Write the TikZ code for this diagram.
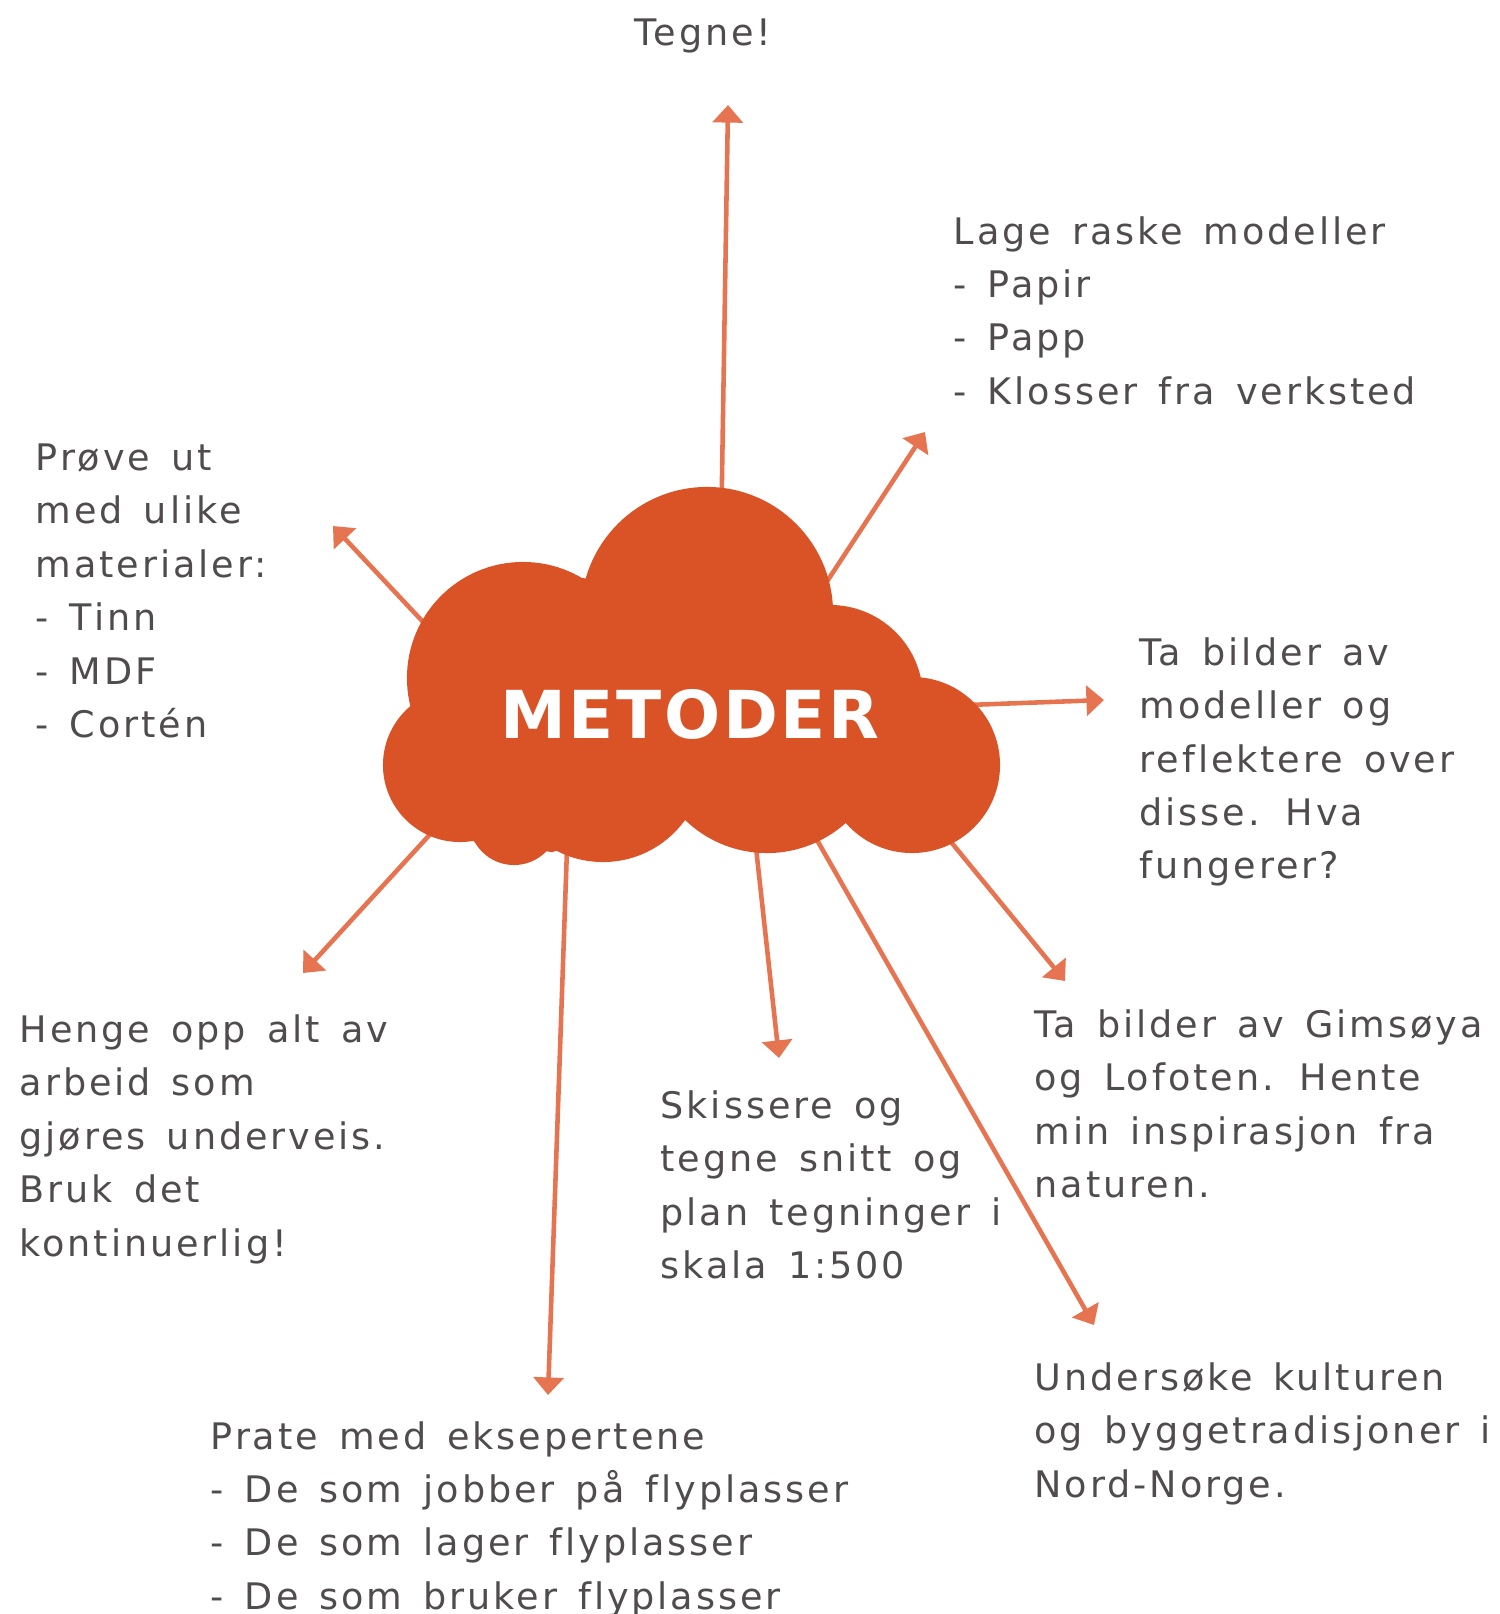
\documentclass[tikz,border=0pt]{standalone}
\usepackage{fontspec}
\setmainfont{DejaVu Sans}[LetterSpace=8, WordSpace=1.45, Ligatures=CommonOff]
\newfontfamily\titlefont{DejaVu Sans}[LetterSpace=4]
\usetikzlibrary{arrows.meta}
\definecolor{cloudred}{RGB}{218,83,38}
\definecolor{arrowred}{RGB}{231,116,80}
\definecolor{textgray}{RGB}{80,76,78}
\tikzset{
  idea/.style={anchor=north west, inner sep=0pt, align=left, text=textgray,
    font=\fontsize{10.4pt}{15.2pt}\selectfont},
  link/.style={arrowred, line width=1.3pt, -{Triangle[width=8.5pt,length=5pt]}},
}

\begin{document}
\begin{tikzpicture}[x=0.01cm, y=-0.01cm]
    \useasboundingbox (0,0) rectangle (1500,1614);
    \node[idea] (tegne) at (634,18) {Tegne!};
    \node[idea] (lage) at (953,215.5) {Lage raske modeller\\- Papir\\- Papp\\- Klosser fra verksted};
    \node[idea] (prove) at (35,443) {Prøve ut\\med ulike\\materialer:\\- Tinn\\- MDF\\- Cortén};
    \node[idea] (tabilder) at (1139,636.6) {Ta bilder av\\modeller og\\reflektere over\\disse. Hva\\fungerer?};
    \node[idea] (gimsoya) at (1034,1009) {Ta bilder av Gimsøya\\og Lofoten. Hente\\min inspirasjon fra\\naturen.};
    \node[idea] (henge) at (19,1014) {Henge opp alt av\\arbeid som\\gjøres underveis.\\Bruk det\\kontinuerlig!};
    \node[idea] (skissere) at (660,1089.6) {Skissere og\\tegne snitt og\\plan tegninger i\\skala 1:500};
    \node[idea] (undersoke) at (1034,1362) {Undersøke kulturen\\og byggetradisjoner i\\Nord-Norge.};
    \node[idea] (prate) at (210,1420.5) {Prate med eksepertene\\- De som jobber på flyplasser\\- De som lager flyplasser\\- De som bruker flyplasser};

    \coordinate (s1) at (721,540);  \coordinate (e1) at (728,105);
    \coordinate (s2) at (805,615);  \coordinate (e2) at (925,432);
    \coordinate (s3) at (440,640);  \coordinate (e3) at (333,526);
    \coordinate (s4) at (940,706);  \coordinate (e4) at (1104,700);
    \coordinate (s5) at (445,818);  \coordinate (e5) at (303,973);
    \coordinate (s6) at (568,820);  \coordinate (e6) at (548,1395);
    \coordinate (s7) at (753,820);  \coordinate (e7) at (779,1058);
    \coordinate (s8) at (797,805);  \coordinate (e8) at (1094,1325);
    \coordinate (s9) at (933,820);  \coordinate (e9) at (1065,981);
    \foreach \i in {1,...,9}
        \draw[link] (s\i) -- (e\i);

    \fill[cloudred] (582,578) -- (833,605) -- (920,678) -- (837,827) -- (685,820)
        -- (552,852) -- (475,843) -- (412,705) -- cycle;
    \fill[cloudred] (707,613) circle[radius=1.26cm] (523,678) circle[radius=1.16cm]
        (460,765) circle[radius=0.77cm] (514,820) circle[radius=0.45cm]
        (603,761) circle[radius=1.01cm] (767,735) circle[radius=1.18cm]
        (912,765) circle[radius=0.88cm] (830,698) circle[radius=0.93cm];
    \node[anchor=base, inner sep=0pt, text=white, font=\titlefont\bfseries\fontsize{18.8pt}{20pt}\selectfont] (metoder) at (690,738) {METODER};
\end{tikzpicture}
\end{document}
